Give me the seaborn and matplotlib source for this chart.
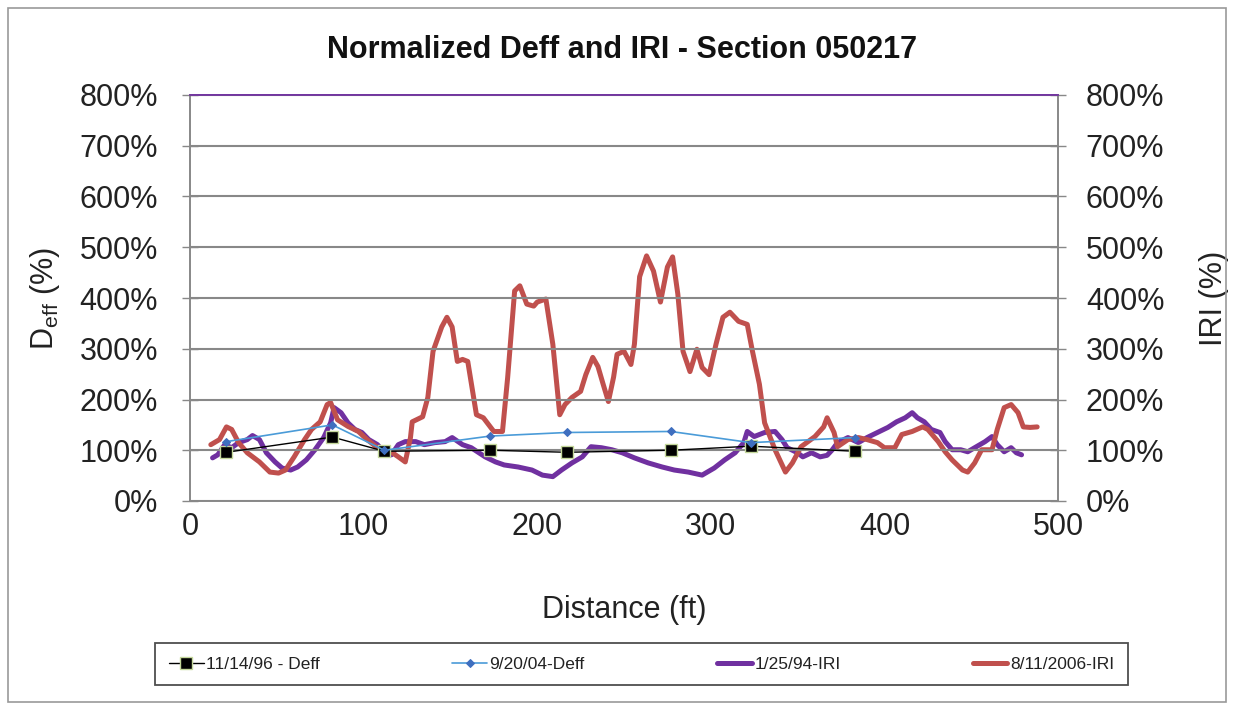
import matplotlib
matplotlib.use("Agg")
import matplotlib.pyplot as plt
from matplotlib.patches import Rectangle
from matplotlib.ticker import FuncFormatter
import seaborn as sns
import pandas as pd

# -------------------- DATOS --------------------
# Deff (puntos FWD), distancia en ft, valor en %
deff_x = [21, 82, 112, 173, 217, 277, 323, 383]
deff_1996 = [96, 126, 98, 100, 96, 100, 108, 98]
deff_2004 = [117, 150, 100, 128, 135, 137, 115, 125]

# IRI 1/25/94
iri94_x = [13, 16, 20, 24, 28, 33, 36, 40, 44, 49, 53, 58, 62, 67, 72, 77, 81, 83, 87, 91,
           95, 99, 103, 108, 112, 116, 120, 124, 130, 135, 141, 147, 151, 157, 162, 170, 176, 181, 189, 197,
           203, 209, 214, 220, 226, 231, 237, 243, 249, 256, 264, 272, 279, 287, 295, 302, 308, 314, 319, 321,
           325, 331, 337, 341, 344, 350, 353, 358, 363, 367, 370, 373, 379, 385, 390, 396, 402, 407, 412, 416,
           419, 423, 427, 432, 435, 439, 444, 448, 453, 458, 462, 465, 469, 473, 476, 479]
iri94_y = [85, 91, 111, 105, 115, 121, 129, 121, 95, 77, 65, 61, 67, 81, 101, 125, 154, 184, 174, 154,
           141, 135, 121, 111, 95, 91, 111, 117, 117, 111, 115, 117, 125, 111, 105, 87, 77, 71, 67, 61,
           51, 48, 61, 75, 87, 107, 105, 101, 95, 85, 75, 67, 61, 57, 51, 65, 81, 95, 115, 137,
           127, 135, 137, 121, 105, 95, 87, 95, 87, 90, 101, 115, 125, 115, 125, 135, 145, 156, 164, 174,
           164, 156, 141, 135, 117, 101, 101, 97, 107, 117, 127, 111, 97, 105, 95, 91]

# IRI 8/11/2006
iri06_x = [12, 17, 21, 24, 28, 33, 40, 46, 51, 55, 60, 66, 70, 75, 79, 81, 85, 91, 97, 102,
           108, 114, 120, 124, 127, 128, 134, 137, 140, 145, 148, 151, 154, 157, 160, 165, 169, 175, 180, 183,
           187, 190, 194, 198, 200, 205, 209, 213, 216, 220, 225, 228, 232, 235, 238, 241, 244, 246, 250, 254,
           256, 259, 263, 267, 271, 275, 278, 281, 284, 288, 292, 295, 299, 303, 307, 311, 316, 321, 324, 328,
           331, 337, 343, 347, 352, 360, 365, 367, 371, 373, 379, 385, 390, 396, 400, 406, 410, 416, 422, 425,
           431, 435, 439, 445, 448, 452, 456, 462, 465, 469, 473, 477, 480, 484, 488]
iri06_y = [111, 121, 146, 141, 115, 95, 77, 57, 55, 61, 87, 121, 141, 156, 190, 194, 160, 147, 137, 121,
           105, 101, 87, 77, 125, 156, 166, 204, 295, 343, 362, 343, 275, 279, 275, 170, 164, 137, 137, 244,
           414, 424, 388, 384, 392, 398, 309, 170, 190, 204, 216, 249, 283, 265, 230, 196, 244, 289, 295, 269,
           309, 442, 483, 453, 392, 461, 481, 408, 295, 255, 299, 263, 249, 309, 362, 372, 354, 348, 295, 230,
           154, 101, 57, 75, 107, 127, 146, 164, 135, 107, 121, 125, 121, 115, 105, 105, 131, 137, 146, 141,
           117, 97, 81, 61, 57, 75, 101, 101, 141, 184, 190, 174, 146, 145, 146]

x_ticks = [0, 100, 200, 300, 400, 500]
y_ticks = [0, 100, 200, 300, 400, 500, 600, 700, 800]

deff = pd.DataFrame({"x": deff_x, "d96": deff_1996, "d04": deff_2004})
iri94 = pd.DataFrame({"x": iri94_x, "y": iri94_y})
iri06 = pd.DataFrame({"x": iri06_x, "y": iri06_y})

# -------------------- ESTILO --------------------
sns.set_theme(style="white")
plt.rcParams["font.family"] = ["Liberation Sans", "DejaVu Sans"]

fig = plt.figure(figsize=(12.35, 7.06), dpi=100)
ax = fig.add_axes([190 / 1235, 1 - 501 / 706, 868 / 1235, 406 / 706])
ax2 = ax.twinx()

pct = FuncFormatter(lambda v, p: f"{int(v)}%")
txt = "#222222"
grid = "#888888"

# -------------------- GRÁFICO --------------------
sns.lineplot(data=iri94, x="x", y="y", ax=ax2, sort=False, estimator=None,
             color="#7030A0", linewidth=3.6, label="1/25/94-IRI", zorder=3)
sns.lineplot(data=iri06, x="x", y="y", ax=ax2, sort=False, estimator=None,
             color="#C0504D", linewidth=3.6, label="8/11/2006-IRI", zorder=4)
sns.lineplot(data=deff, x="x", y="d96", ax=ax, sort=False, estimator=None,
             color="black", linewidth=1.0, marker="s", markersize=9,
             markerfacecolor="black", markeredgecolor="#C4D79B", markeredgewidth=1,
             label="11/14/96 - Deff", zorder=5)
sns.lineplot(data=deff, x="x", y="d04", ax=ax, sort=False, estimator=None,
             color="#4A9BD8", linewidth=1.2, marker="D", markersize=4,
             markerfacecolor="#3F6FBF", markeredgecolor="#3F6FBF",
             label="9/20/04-Deff", zorder=6)

# Deff por encima de las curvas IRI
ax.set_zorder(ax2.get_zorder() + 1)
ax.patch.set_visible(False)

for a in (ax, ax2):
    a.set_ylim(0, 800)
    a.set_yticks(y_ticks)
    a.yaxis.set_major_formatter(pct)
    a.set_xlim(0, 500)
    a.set_xticks(x_ticks)
    a.tick_params(labelsize=22, labelcolor=txt, color=grid, width=1)
    for s in a.spines.values():
        s.set_color(grid)
        s.set_linewidth(1.2)
    if a.get_legend() is not None:
        a.get_legend().remove()

ax.tick_params(axis="y", direction="inout", length=12, pad=17)
ax.tick_params(axis="x", direction="out", length=7, pad=1)
ax2.tick_params(axis="y", direction="inout", length=12, pad=14)
ax.spines["top"].set_color("#7030A0")
ax2.spines["top"].set_color("#7030A0")

ax.yaxis.grid(True, color=grid, linewidth=1.5)
ax.set_axisbelow(True)

ax.set_xlabel("Distance (ft)", fontsize=22, color=txt)
ax.xaxis.set_label_coords(0.5, -0.232)
ax.set_ylabel(r"D$_\mathregular{eff}$ (%)", fontsize=22, color=txt)
ax.yaxis.set_label_coords(-0.148, 0.5)
ax2.set_ylabel("IRI (%)", fontsize=22, color=txt)
ax2.yaxis.set_label_coords(1.163, 0.5)

fig.text(0.504, 1 - 50 / 706, "Normalized Deff and IRI - Section 050217",
         ha="center", va="center", fontsize=22, fontweight="bold", color="#111111")

# -------------------- LEYENDA --------------------
h1, l1 = ax.get_legend_handles_labels()
h2, l2 = ax2.get_legend_handles_labels()
leg = fig.legend(h1 + h2, l1 + l2, ncol=4, loc="center",
                 bbox_to_anchor=(155 / 1235, 1 - 688 / 706, 973 / 1235, 48 / 706),
                 mode="expand", frameon=True, fancybox=False,
                 handlelength=2.0, handletextpad=0.15, borderaxespad=0, borderpad=0.8,
                 prop={"family": ["Liberation Sans", "DejaVu Sans"], "size": 12.5})
leg.get_frame().set_edgecolor("#222222")
leg.get_frame().set_linewidth(1.3)
for t in leg.get_texts():
    t.set_color(txt)

# marco exterior
fig.patches.append(Rectangle((8 / 1235, 4 / 706), 1218 / 1235, 694 / 706,
                             transform=fig.transFigure, fill=False,
                             edgecolor="#999999", linewidth=1.2))

plt.savefig("out.png", dpi=100)
plt.close()
